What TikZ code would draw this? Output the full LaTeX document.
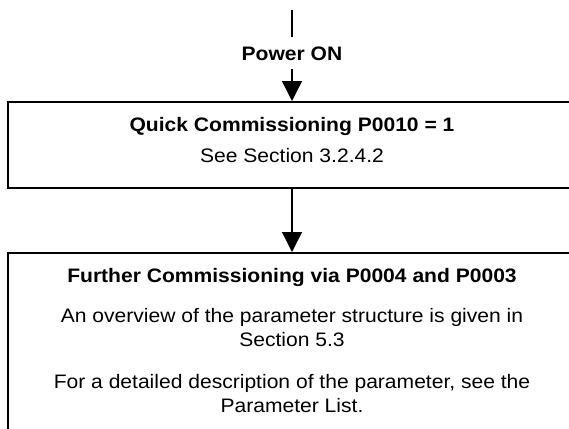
\documentclass[tikz,border=0pt]{standalone}
\usepackage{fontspec}
\setmainfont{Liberation Sans}[FakeStretch=1.08]
\usetikzlibrary{arrows.meta,positioning}

\begin{document}
\begin{tikzpicture}[x=1pt,y=1pt,font=\fontsize{19.5}{24}\selectfont,
box/.style={draw,line width=2pt,rectangle,align=center,minimum width=568pt,
	inner xsep=0pt,inner ysep=15.8pt,anchor=north},
flow/.style={line width=1.3pt,-{Triangle[width=20pt,length=20pt]}}]
\useasboundingbox (0,0) rectangle (569,-428);
\clip (0,0) rectangle (569,-428);

% power on
\coordinate (top) at (292,-10);
\node[inner sep=9pt,anchor=base] (power) at (292,-60) {\textbf{Power ON}};
\draw[line width=1.3pt] (top) -- (power.north);

% boxes
\node[box,text depth=9.2pt] (quick) at (292,-101)
	{\textbf{Quick Commissioning P0010 = 1}\\[7pt] See Section 3.2.4.2};

\node[box,text depth=60pt] (further) at (292,-252)
	{\textbf{Further Commissioning via P0004 and P0003}\\[16pt]
	An overview of the parameter structure is given in\\ Section 5.3\\[18pt]
	For a detailed description of the parameter, see the\\ Parameter List.};

% arrows
\draw[flow] (power.south) -- (quick.north);
\draw[flow] (quick.south) -- (further.north);
\end{tikzpicture}
\end{document}
